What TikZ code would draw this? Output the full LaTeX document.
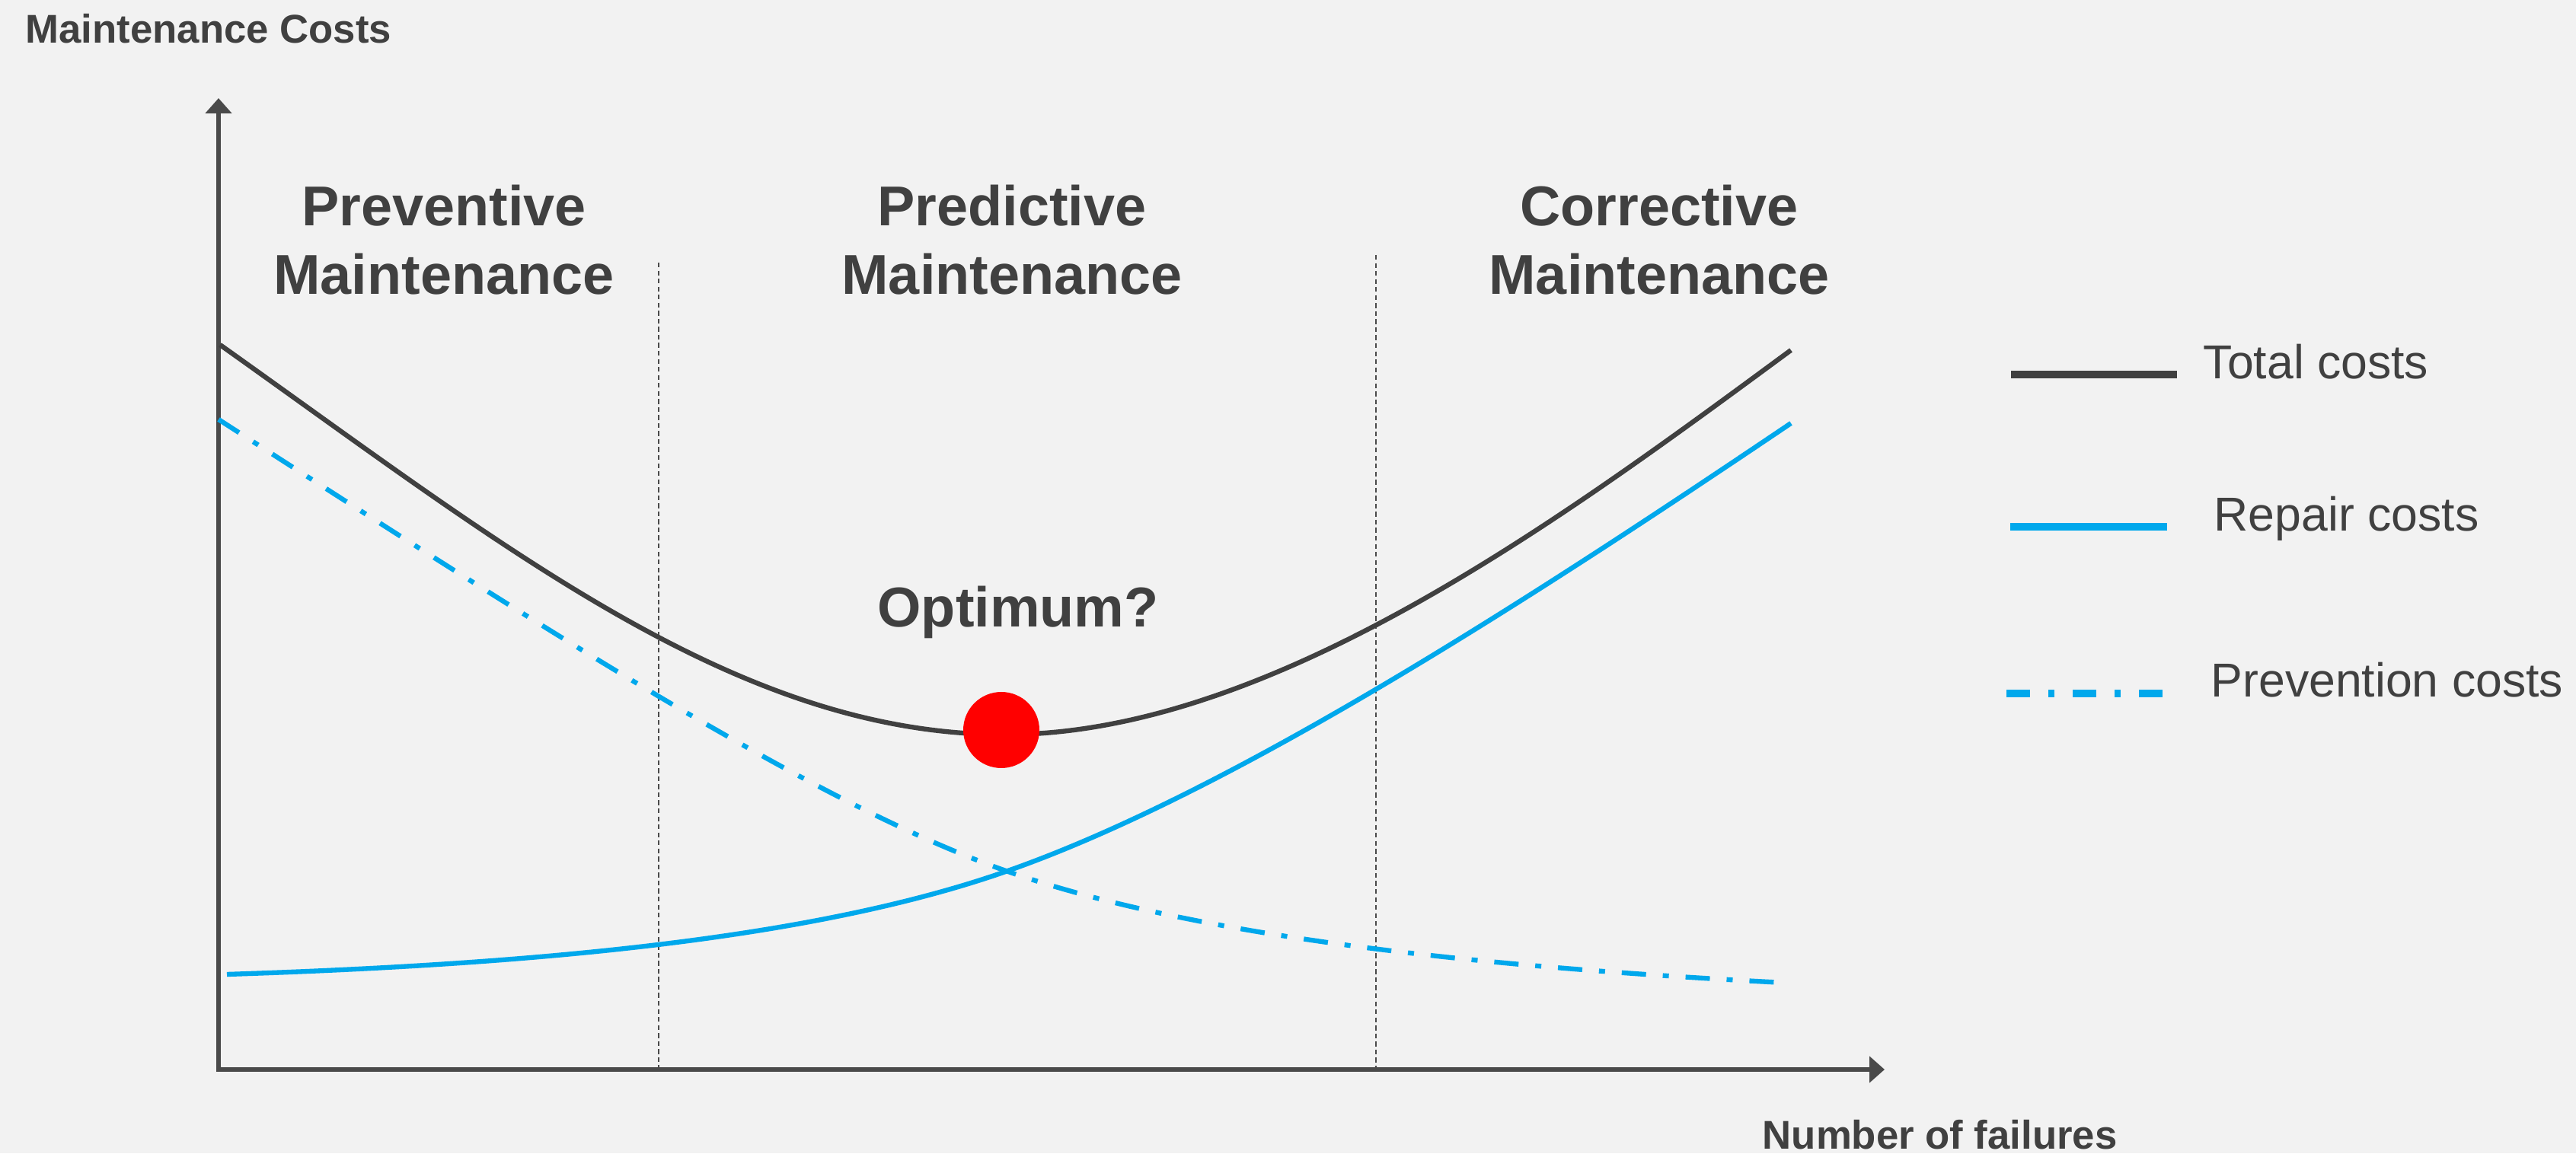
\documentclass[tikz,border=0pt]{standalone}
\usepackage{fontspec}
\setmainfont{Liberation Sans}
\usetikzlibrary{arrows.meta}
\definecolor{txtgrey}{HTML}{404040}
\definecolor{axisgrey}{HTML}{4A4A4A}
\definecolor{costblue}{HTML}{00A8EC}
\definecolor{bggrey}{HTML}{F2F2F2}
\begin{document}
\begin{tikzpicture}[
	axis/.style = {draw = axisgrey, line width = 1.7pt, {Triangle[length = 0.2cm, width = 0.34cm]}-{Triangle[length = 0.2cm, width = 0.34cm]}},
	border/.style = {draw = axisgrey, line width = 0.6pt, dash pattern = on 1.8pt off 1.2pt},
	heading/.style = {text = txtgrey, font = \bfseries\fontsize{21}{25.4}\selectfont, align = center, inner sep = 0},
	axislabel/.style = {text = txtgrey, font = \bfseries\fontsize{15}{18}\selectfont, inner sep = 0, anchor = base west},
	legendlabel/.style = {text = txtgrey, font = \fontsize{17.8}{21}\selectfont, inner sep = 0, anchor = base west},
	total/.style = {draw = txtgrey, line width = 1.8pt},
	repair/.style = {draw = costblue, line width = 1.8pt},
	prevention/.style = {draw = costblue, line width = 1.8pt, dash pattern = on 0.32cm off 0.22cm on 0.08cm off 0.22cm}
]
	\fill [bggrey] ( 0, 0 ) rectangle ( 33.83, 15.15 );
	% axes
	\coordinate (origin) at ( 2.87, 1.10 );
	\coordinate (ytip) at ( 2.87, 13.86 );
	\coordinate (xtip) at ( 24.75, 1.10 );
	\coordinate (split1) at ( 8.65, 11.70 );
	\coordinate (split2) at ( 18.07, 11.80 );
	\draw [border] (split1) -- (split1 |- origin);
	\draw [border] (split2) -- (split2 |- origin);
	\draw [axis] (ytip) -- (origin) -- (xtip);
	\node [axislabel] (ylabel) at ( 0.33, 14.58 ) {Maintenance Costs};
	\node [axislabel] (xlabel) at ( 23.14, 0.06 ) {Number of failures};
	% regions
	\node [heading] (preventive) at ( 5.83, 12.00 ) {Preventive\\Maintenance};
	\node [heading] (predictive) at ( 13.29, 12.00 ) {Predictive\\Maintenance};
	\node [heading] (corrective) at ( 21.79, 12.00 ) {Corrective\\Maintenance};
	% curves
	\draw [prevention] ( 2.87, 9.64 ) .. controls ( 7.17, 6.87 ) and ( 10.71, 4.585 ) .. ( 13.21, 3.71 )
		.. controls ( 15.71, 2.835 ) and ( 19.43, 2.448 ) .. ( 23.43, 2.24 );
	\draw [repair] ( 2.98, 2.35 ) .. controls ( 6.98, 2.48 ) and ( 10.5, 2.805 ) .. ( 13.00, 3.63 )
		.. controls ( 16.00, 4.62 ) and ( 20.02, 7.23 ) .. ( 23.52, 9.59 );
	\draw [total] ( 2.89, 10.62 ) .. controls ( 6.69, 7.92 ) and ( 9.70, 5.50 ) .. ( 13.20, 5.50 )
		.. controls ( 16.70, 5.50 ) and ( 20.52, 8.34 ) .. ( 23.52, 10.55 );
	\node [circle, fill = red, minimum size = 1.0cm, inner sep = 0] (optimum) at ( 13.15, 5.56 ) {};
	\node [heading, anchor = base] (question) at ( 13.37, 6.91 ) {Optimum?};
	% legend
	\coordinate (totalkey) at ( 26.41, 10.23 );
	\coordinate (repairkey) at ( 26.40, 8.23 );
	\coordinate (preventionkey) at ( 26.35, 6.04 );
	\draw [total, line width = 2.6pt] (totalkey) -- ++( 2.18, 0 );
	\draw [repair, line width = 2.6pt] (repairkey) -- ++( 2.06, 0 );
	\draw [prevention, line width = 2.6pt, dash pattern = on 0.31cm off 0.24cm on 0.08cm off 0.24cm] (preventionkey) -- ++( 2.07, 0 );
	\node [legendlabel] (totaltext) at ( 28.93, 10.17 ) {Total costs};
	\node [legendlabel] (repairtext) at ( 29.07, 8.17 ) {Repair costs};
	\node [legendlabel] (preventiontext) at ( 29.03, 5.99 ) {Prevention costs};
\end{tikzpicture}
\end{document}
